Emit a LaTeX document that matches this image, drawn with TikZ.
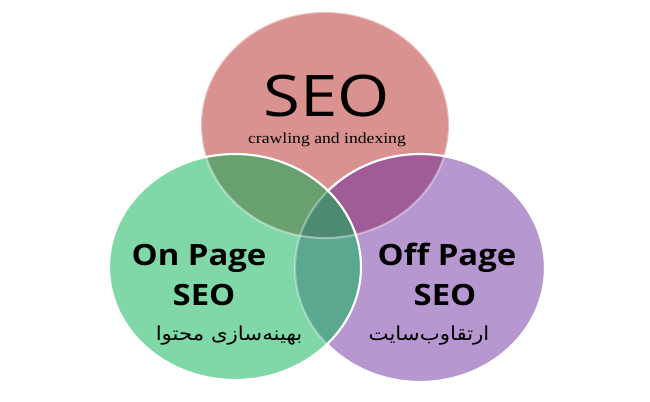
\documentclass[tikz,border=0pt]{standalone}
\usepackage{fontspec}
\setmainfont{Liberation Serif}
\newfontfamily\opensans{Open Sans}
\newfontfamily\arabicfont[Script=Arabic]{DejaVu Sans}
\TeXXeTstate=1
\definecolor{cred}{HTML}{D9928F}
\definecolor{cgrn}{HTML}{80D8A8}
\definecolor{cpur}{HTML}{B797D0}
\definecolor{crg}{HTML}{68A070}
\definecolor{crp}{HTML}{A05C96}
\definecolor{cgp}{HTML}{5BA890}
\definecolor{cmid}{HTML}{4D8A72}
\tikzset{
  edge/.style={draw=white,line width=1.6pt},
  bigtitle/.style={font=\opensans\fontsize{43}{48}\selectfont,anchor=base,inner sep=0pt,xscale=1.17},
  subtitle/.style={font=\fontsize{11.5}{13}\selectfont,anchor=base,inner sep=0pt,xscale=1.15},
  boldlabel/.style={font=\opensans\bfseries\fontsize{22}{26}\selectfont,anchor=base,inner sep=0pt,xscale=1.12},
  fatext/.style={font=\arabicfont\fontsize{14.5}{17}\selectfont,anchor=base,inner sep=0pt,xscale=1.1}
}
\def\redE{(325,125) ellipse [x radius=124,y radius=113]}
\def\grnE{(235,267) ellipse [x radius=126,y radius=113]}
\def\purE{(420,268) ellipse [x radius=125,y radius=114]}
\begin{document}
\begin{tikzpicture}[x=0.75pt,y=-0.75pt]
\useasboundingbox (0,0) rectangle (650,401);
% base fills
\fill[cred] \redE;
\fill[cpur] \purE;
\fill[cgrn] \grnE;
% overlaps
\begin{scope}
  \clip \redE;
  \fill[crp] \purE;
  \fill[crg] \grnE;
\end{scope}
\begin{scope}
  \clip \grnE;
  \fill[cgp] \purE;
\end{scope}
\begin{scope}
  \clip \redE;
  \clip \grnE;
  \fill[cmid] \purE;
\end{scope}
% outlines
\draw[edge,opacity=0.4] \redE;
\begin{scope}[even odd rule]
  \clip (0,0) rectangle (650,401) \grnE;
  \draw[edge] \purE;
\end{scope}
\draw[edge,opacity=0.35] \purE;
\draw[edge] \grnE;
% texts
\node[bigtitle] (seo) at (327,116) {SEO};
\node[subtitle] (crawl) at (327,143.5) {crawling and indexing};
\node[boldlabel] (onp) at (199,265) {On Page};
\node[boldlabel] (ons) at (204,305) {SEO};
\node[boldlabel] (offp) at (447,265) {Off Page};
\node[boldlabel] (offs) at (445,305) {SEO};
\node[fatext] (onfa) at (229,340) {\beginR بهینه‌سازی محتوا\endR};
\node[fatext] (offfa) at (429,340) {\beginR ارتقاوب‌سایت\endR};
\end{tikzpicture}
\end{document}
